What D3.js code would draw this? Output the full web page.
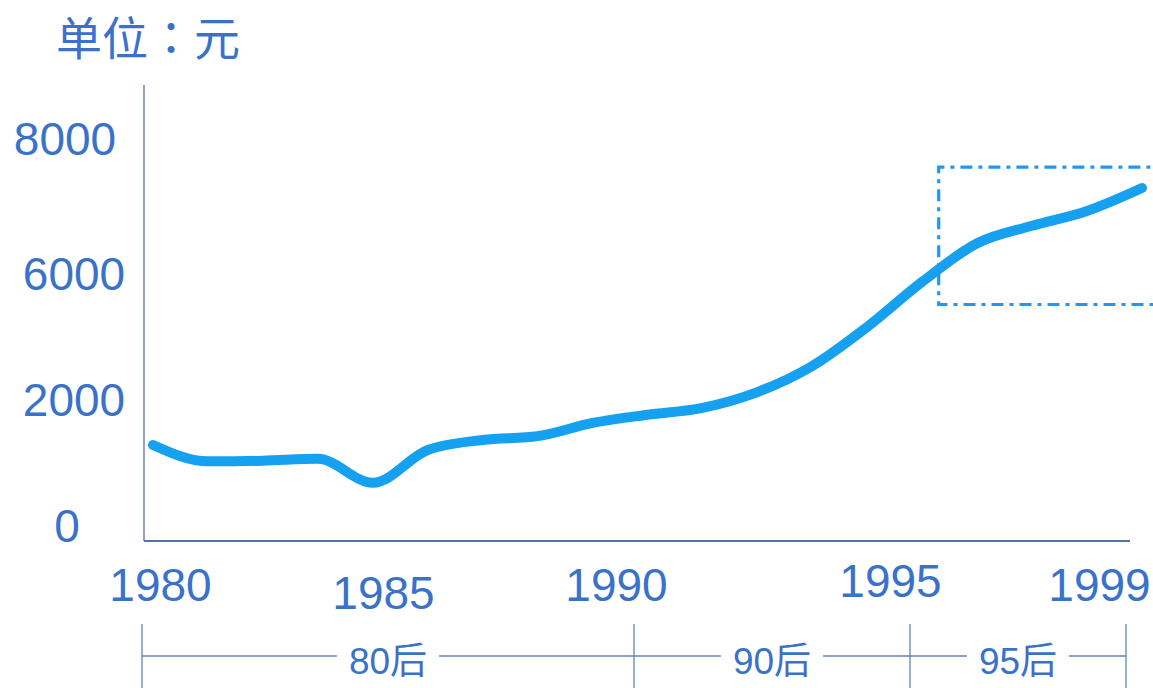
<!DOCTYPE html>
<html>
<head>
<meta charset="utf-8">
<script src="https://cdn.jsdelivr.net/npm/d3@7"></script>
<style>
  body { margin: 0; background: #fff; }
  svg { display: block; font-family: "Liberation Sans", Arial, "Noto Sans CJK SC", sans-serif; }
</style>
</head>
<body>
<svg id="chart" width="1153" height="688"></svg>
<script>
// income per year (yuan)
var years = d3.range(1980, 1999);
var income = [1270, 1010, 1020, 1050, 670, 1190, 1350, 1410, 1620, 1750,
              1860, 2220, 3050, 4290, 5720, 6440, 6700, 6920, 7260];

var yTicks = [0, 2000, 6000, 8000];
var xTicks = [1980, 1985, 1990, 1995, 1999];

// generations
var eraBounds = [1980, 1990, 1995, 1999];
var eraNames = ["80后", "90后", "95后"];

// highlighted window
var focusYears = [1994.3, 1999.5];
var focusValues = [5000, 7570];

var svg = d3.select("#chart"),
    blue = "#3a72c9";

var defs = svg.append("defs");
defs.append("filter").attr("id", "soft")
  .append("feGaussianBlur").attr("stdDeviation", 0.7);

// the original spaces its value labels unevenly, so the scale is piecewise
var y = d3.scaleLinear().domain(yTicks).range([525, 399, 273, 138]);
var x = d3.scaleLinear().domain([1980, 1998]).range([153, 1142]);
var eraX = d3.scaleLinear().domain(eraBounds).range([142, 634, 910, 1126]);

// frame
svg.append("line").attr("x1", 144).attr("x2", 144).attr("y1", 85).attr("y2", 541)
  .attr("stroke", "#4f74ad").attr("stroke-width", 1.3);
svg.append("line").attr("x1", 144).attr("x2", 1130).attr("y1", 541).attr("y2", 541)
  .attr("stroke", "#4f74ad").attr("stroke-width", 2);

// title
var title = svg.append("text")
  .attr("x", 56).attr("y", 38.5)
  .attr("dy", "0.35em")
  .attr("font-family", "'Noto Sans CJK SC', sans-serif")
  .attr("font-size", 46)
  .attr("fill", blue);
title.append("tspan").text("单位");
title.append("tspan").attr("font-family", "'Noto Sans CJK TC', sans-serif").text("：");
title.append("tspan").text("元");

// y axis labels
var yLabelX = [67, 74, 74, 65];
var yAxis = svg.append("g")
    .attr("transform", "translate(144,0)")
    .call(d3.axisLeft(y).tickValues(yTicks).tickSize(0).tickFormat(d3.format("d")));
yAxis.select(".domain").remove();
yAxis.selectAll("text")
    .attr("x", function(d, i) { return yLabelX[i] - 144; })
    .attr("dy", "0.35em")
    .attr("text-anchor", "middle")
    .attr("font-family", "'Liberation Sans', Arial, sans-serif")
    .attr("font-size", 46)
    .attr("fill", blue);

// x axis labels (staggered like the original)
var xLabelDx = [18, -5, -18, -20, -27],
    xLabelY = [585, 593, 585, 581, 585];
var xAxis = svg.append("g")
    .call(d3.axisBottom(eraX).tickValues(xTicks).tickSize(0).tickFormat(d3.format("d")));
xAxis.select(".domain").remove();
xAxis.selectAll(".tick text")
    .attr("x", function(d, i) { return xLabelDx[i]; })
    .attr("y", function(d, i) { return xLabelY[i]; })
    .attr("dy", "0.35em")
    .attr("text-anchor", "middle")
    .attr("font-family", "'Liberation Sans', Arial, sans-serif")
    .attr("font-size", 46)
    .attr("fill", blue);

// generation brackets
var br = svg.append("g").attr("stroke", "#6a8fc4").attr("stroke-width", 1.4);
br.selectAll("line.tick").data(eraBounds).enter().append("line")
    .attr("class", "tick")
    .attr("x1", function(d) { return eraX(d); })
    .attr("x2", function(d) { return eraX(d); })
    .attr("y1", 624).attr("y2", 688);

var eras = eraNames.map(function(n, i) { return {name: n, a: eraBounds[i], b: eraBounds[i + 1]}; });
var eraG = svg.append("g").selectAll("g").data(eras).enter().append("g");
eraG.append("text")
    .attr("x", function(d) { return (eraX(d.a) + eraX(d.b)) / 2; })
    .attr("y", 661)
    .attr("dy", "0.35em")
    .attr("text-anchor", "middle")
    .attr("font-size", 37)
    .attr("fill", blue)
    .text(function(d) { return d.name; });
eraG.each(function(d) {
  var g = d3.select(this),
      w = g.select("text").node().getComputedTextLength(),
      mid = (eraX(d.a) + eraX(d.b)) / 2;
  [[eraX(d.a), mid - w / 2 - 12], [mid + w / 2 + 12, eraX(d.b)]].forEach(function(s) {
    g.append("line")
      .attr("x1", s[0]).attr("x2", s[1])
      .attr("y1", 656).attr("y2", 656)
      .attr("stroke", "#5f84bd").attr("stroke-width", 1.4);
  });
});

// income line
var line = d3.line()
    .x(function(d, i) { return x(years[i]); })
    .y(function(d) { return y(d); })
    .curve(d3.curveMonotoneX);

svg.append("path")
    .datum(income)
    .attr("d", line)
    .attr("fill", "none")
    .attr("stroke", "#17a1f0")
    .attr("stroke-width", 10)
    .attr("stroke-linecap", "round")
    .attr("stroke-linejoin", "round")
    .attr("filter", "url(#soft)");

// focus box
var x0 = x(focusYears[0]), x1 = x(focusYears[1]),
    yTop = y(focusValues[1]), yBot = y(focusValues[0]);
svg.append("path")
    .attr("d", "M" + x1 + "," + yTop + "H" + x0 + "V" + yBot + "H" + x1)
    .attr("fill", "none")
    .attr("stroke", "#2396f2")
    .attr("stroke-width", 3.2)
    .attr("stroke-dasharray", "12,6,4,6");
</script>
</body>
</html>
